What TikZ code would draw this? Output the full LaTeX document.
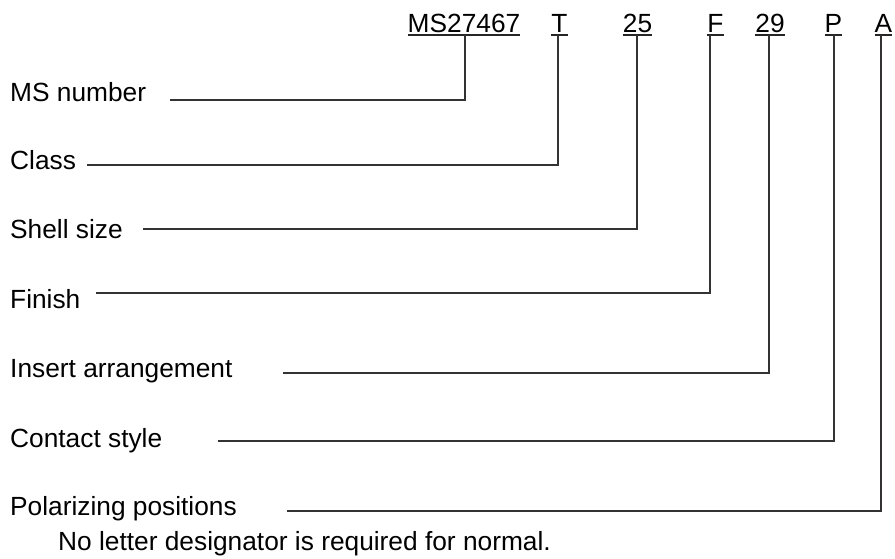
\documentclass[tikz,border=0pt]{standalone}
\usepackage{fontspec}
\setmainfont{Liberation Sans}
\begin{document}
\begin{tikzpicture}[x=1pt,y=1pt,
  txt/.style={inner sep=0pt, font=\fontsize{26.3}{30}\selectfont, text=black},
  lbl/.style={txt, anchor=base west},
  code/.style={txt, anchor=base},
  conn/.style={line width=1.3pt, draw=black!80},
  uline/.style={line width=1.3pt, draw=black!85}]
\useasboundingbox (0,0) rectangle (895,-558);
% codes
\node[code] (cMS) at (464,-32) {MS27467};
\node[code] (cT)  at (559.5,-32) {T};
\node[code] (c25) at (637.5,-32) {25};
\node[code] (cF)  at (715.5,-32) {F};
\node[code] (c29) at (770,-32) {29};
\node[code] (cP)  at (833.5,-32) {P};
\node[code] (cA)  at (883.5,-32) {A};
\foreach \c in {cMS,cT,c25,cF,c29,cP,cA}{
  \draw[uline] ([yshift=-3pt]\c.base west) -- ([yshift=-3pt]\c.base east);
}
% labels
\node[lbl] (lMS) at (10,-101) {MS number};
\node[lbl] (lCl) at (10,-169) {Class};
\node[lbl] (lSh) at (10,-238) {Shell size};
\node[lbl] (lFi) at (10,-308) {Finish};
\node[lbl] (lIn) at (10,-377) {Insert arrangement};
\node[lbl] (lCo) at (10,-447) {Contact style};
\node[lbl] (lPo) at (10,-515) {Polarizing positions};
\node[lbl] (note) at (58,-550) {No letter designator is required for normal.};
% line starts and bends
\coordinate (sMS) at (170,-100); \coordinate (bMS) at (465,-100);
\coordinate (sCl) at (87,-165);  \coordinate (bCl) at (558,-165);
\coordinate (sSh) at (143,-229); \coordinate (bSh) at (637,-229);
\coordinate (sFi) at (96,-293);  \coordinate (bFi) at (710,-293);
\coordinate (sIn) at (283,-373); \coordinate (bIn) at (769,-373);
\coordinate (sCo) at (218,-441); \coordinate (bCo) at (834,-441);
\coordinate (sPo) at (287,-511); \coordinate (bPo) at (881,-511);
% connectors
\draw[conn] (sMS) -- (bMS) -- ([yshift=-3pt]bMS |- cMS.base);
\draw[conn] (sCl) -- (bCl) -- ([yshift=-3pt]bCl |- cT.base);
\draw[conn] (sSh) -- (bSh) -- ([yshift=-3pt]bSh |- c25.base);
\draw[conn] (sFi) -- (bFi) -- ([yshift=-3pt]bFi |- cF.base);
\draw[conn] (sIn) -- (bIn) -- ([yshift=-3pt]bIn |- c29.base);
\draw[conn] (sCo) -- (bCo) -- ([yshift=-3pt]bCo |- cP.base);
\draw[conn] (sPo) -- (bPo) -- ([yshift=-3pt]bPo |- cA.base);
\end{tikzpicture}
\end{document}
